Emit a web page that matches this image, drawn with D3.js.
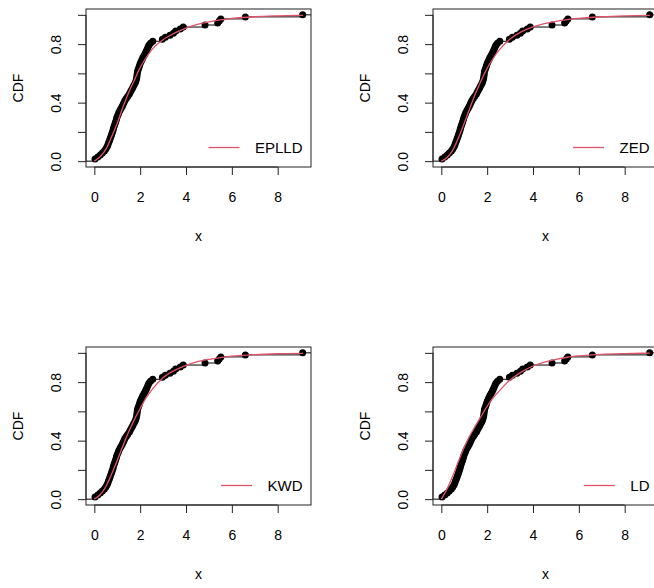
<!DOCTYPE html>
<html>
<head>
<meta charset="utf-8">
<script src="https://cdn.jsdelivr.net/npm/d3@7"></script>
<style>
  html, body { margin: 0; padding: 0; background: #fff; }
  svg { display: block; }
  text { font-family: "Liberation Sans", Arial, Helvetica, sans-serif; fill: #000; }
</style>
</head>
<body>
<svg id="chart" width="654" height="588"></svg>
<script>
// Sorted sample (empirical CDF knots)
const sampleX = [0.03, 0.15, 0.26, 0.35, 0.44, 0.50, 0.55, 0.59, 0.62, 0.66,
  0.69, 0.72, 0.75, 0.78, 0.81, 0.83, 0.86, 0.89, 0.92, 0.95,
  0.97, 1.00, 1.04, 1.07, 1.12, 1.17, 1.22, 1.26, 1.30, 1.34,
  1.40, 1.46, 1.53, 1.57, 1.62, 1.67, 1.71, 1.76, 1.80, 1.83,
  1.85, 1.86, 1.87, 1.88, 1.91, 1.94, 1.97, 2.00, 2.04, 2.08,
  2.12, 2.17, 2.22, 2.26, 2.30, 2.34, 2.38, 2.45, 2.55, 2.97,
  3.10, 3.30, 3.45, 3.55, 3.75, 3.88, 4.83, 5.38, 5.45, 5.52,
  6.59, 9.09];

// Grid on which each fitted CDF is tabulated
const fitGrid = [0, 0.25, 0.5, 0.75, 1, 1.25, 1.5, 1.75, 2, 2.25, 2.5, 3, 3.5, 4, 4.5, 5, 5.5, 6, 7, 8, 9.1];

// Fitted CDF values per model
const cdfEPLLD = [0, 0.03, 0.08, 0.165, 0.26, 0.37, 0.47, 0.555, 0.64, 0.705, 0.76, 0.83, 0.875, 0.91, 0.935, 0.952, 0.965, 0.975, 0.987, 0.993, 0.997];
const cdfZED   = [0, 0.025, 0.075, 0.16, 0.26, 0.365, 0.465, 0.555, 0.635, 0.70, 0.755, 0.835, 0.885, 0.918, 0.94, 0.956, 0.968, 0.976, 0.987, 0.993, 0.996];
const cdfKWD   = [0, 0.03, 0.085, 0.17, 0.265, 0.365, 0.46, 0.545, 0.62, 0.69, 0.745, 0.83, 0.88, 0.915, 0.94, 0.956, 0.968, 0.977, 0.988, 0.994, 0.997];
const cdfLD    = [0, 0.07, 0.16, 0.26, 0.355, 0.435, 0.505, 0.57, 0.635, 0.69, 0.735, 0.815, 0.87, 0.91, 0.937, 0.956, 0.97, 0.979, 0.99, 0.995, 0.998];

const modelNames = ["EPLLD", "ZED", "KWD", "LD"];
const modelCdfs = [cdfEPLLD, cdfZED, cdfKWD, cdfLD];

const xTicks = [0, 2, 4, 6, 8];
const yTicks = [0, 0.2, 0.4, 0.6, 0.8, 1.0];
const yTickLabels = ["0.0", "", "0.4", "", "0.8", ""];

const fitColor = "#DF536B";

const svg = d3.select("#chart");
svg.append("rect").attr("width", 654).attr("height", 588).attr("fill", "#fff");

// Plot-region layout (2 x 2)
const boxW = 225, boxH = 158;
const panelOrigins = [[86, 9], [433, 9], [86, 347], [433, 347]];

// Axis domains with a 4% extension on each side
function extend(lo, hi) {
  const d = (hi - lo) * 0.04;
  return [lo - d, hi + d];
}
const xExt = d3.extent(sampleX.concat([fitGrid[0]]));
const x = d3.scaleLinear().domain(extend(xExt[0], xExt[1])).range([0, boxW]);
const y = d3.scaleLinear().domain(extend(0, 1)).range([boxH, 0]);

const n = sampleX.length;
const ecdf = sampleX.map((v, i) => ({ x: v, F: (i + 1) / n }));

panelOrigins.forEach(([ox, oy], k) => {
  const g = svg.append("g").attr("transform", `translate(${ox},${oy})`);

  // empirical step function: horizontal segments between knots
  const steps = g.append("g").attr("stroke", "#000").attr("stroke-width", 1);
  steps.append("line")
    .attr("x1", 0).attr("x2", x(ecdf[0].x))
    .attr("y1", y(0)).attr("y2", y(0));
  ecdf.forEach((d, i) => {
    const xEnd = i < n - 1 ? x(ecdf[i + 1].x) : boxW;
    steps.append("line")
      .attr("x1", x(d.x)).attr("x2", xEnd)
      .attr("y1", y(d.F)).attr("y2", y(d.F));
  });

  // knots
  g.append("g").selectAll("circle")
    .data(ecdf)
    .join("circle")
    .attr("cx", d => x(d.x))
    .attr("cy", d => y(d.F))
    .attr("r", 3.5)
    .attr("fill", "#000");

  // fitted CDF
  const fit = fitGrid.map((v, i) => [v, modelCdfs[k][i]]);
  g.append("path")
    .datum(fit)
    .attr("fill", "none")
    .attr("stroke", fitColor)
    .attr("stroke-width", 1.3)
    .attr("d", d3.line().x(d => x(d[0])).y(d => y(d[1])).curve(d3.curveMonotoneX));

  // frame
  g.append("rect")
    .attr("x", 0).attr("y", 0).attr("width", boxW).attr("height", boxH)
    .attr("fill", "none").attr("stroke", "#222").attr("stroke-width", 1);

  // x axis
  const xa = g.append("g").attr("transform", `translate(0,${boxH})`)
    .call(d3.axisBottom(x).tickValues(xTicks).tickSize(8).tickPadding(0).tickFormat(d3.format("d")));
  xa.select(".domain").attr("d", `M${x(xTicks[0])},0H${x(xTicks[xTicks.length - 1])}`).attr("stroke", "#222");
  xa.selectAll(".tick line").attr("stroke", "#222");
  xa.selectAll(".tick text")
    .attr("y", 34.5).attr("dy", null)
    .style("font-size", "14px")
    .style("font-family", "Liberation Sans, Arial, sans-serif")
    .attr("fill", "#000");

  // y axis
  const ya = g.append("g")
    .call(d3.axisLeft(y).tickValues(yTicks).tickSize(8).tickFormat((d, i) => yTickLabels[i]));
  ya.select(".domain").attr("d", `M0,${y(yTicks[0])}V${y(yTicks[yTicks.length - 1])}`).attr("stroke", "#222");
  ya.selectAll(".tick line").attr("stroke", "#222");
  ya.selectAll(".tick text")
    .attr("x", null).attr("dy", null)
    .attr("text-anchor", "middle")
    .attr("transform", "translate(-29.5,0) rotate(-90)")
    .attr("dy", "0.35em")
    .style("font-size", "14px")
    .style("font-family", "Liberation Sans, Arial, sans-serif")
    .attr("fill", "#000");

  // axis titles
  g.append("text")
    .attr("x", boxW / 2).attr("y", boxH + 73.5)
    .attr("text-anchor", "middle")
    .style("font-size", "14px")
    .text("x");
  g.append("text")
    .attr("transform", `translate(${-68},${boxH / 2}) rotate(-90)`)
    .attr("text-anchor", "middle")
    .attr("dy", "0.35em")
    .style("font-size", "14px")
    .text("CDF");

  // legend (bottom right, no frame)
  const ly = boxH - 19.5;
  const lt = g.append("text")
    .attr("x", boxW - 8.5).attr("y", ly)
    .attr("dy", "0.35em")
    .attr("text-anchor", "end")
    .style("font-size", "15px")
    .text(modelNames[k]);
  const tw = lt.node().getComputedTextLength();
  const segEnd = boxW - 8.5 - tw - 15.5;
  g.append("line")
    .attr("x1", segEnd - 31).attr("x2", segEnd)
    .attr("y1", ly).attr("y2", ly)
    .attr("stroke", fitColor).attr("stroke-width", 1.3);
});
</script>
</body>
</html>
